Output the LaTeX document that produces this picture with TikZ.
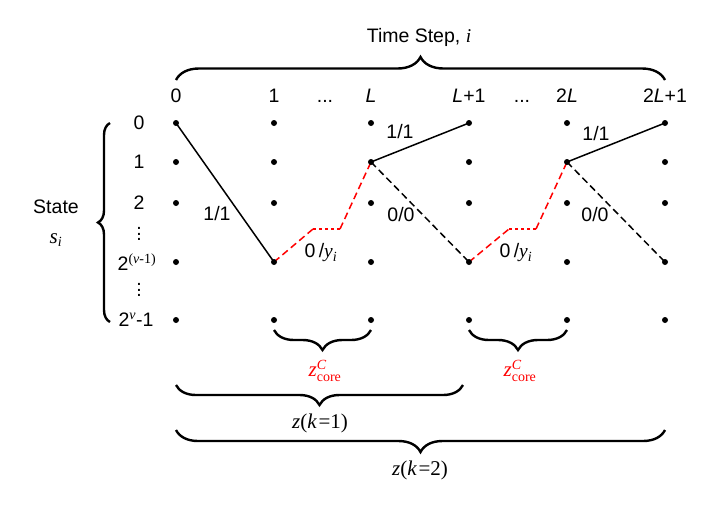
\documentclass[tikz,border=0pt]{standalone}
\usepackage{fontspec}
\setmainfont{Liberation Sans}
\newfontfamily\tms{Liberation Serif}
\usetikzlibrary{decorations.pathreplacing}
\pgfdeclarelayer{bg}
\pgfsetlayers{bg,main}
\newcommand{\sm}[1]{\hbox{\fontsize{14}{14}\selectfont\upshape #1}}
\newcommand{\vdts}{\vbox{\baselineskip=5.5pt\lineskiplimit=-20pt\hbox{.}\hbox{.}\hbox{.}}}
\begin{document}
\begin{tikzpicture}[x=1pt,y=-1pt,
  lbl/.style={font=\fontsize{19.5}{22}\selectfont, inner sep=0pt},
  blbl/.style={lbl, anchor=base},
  tlbl/.style={font=\fontsize{21}{22}\selectfont\tms, inner sep=0pt},
  dot/.style={circle,fill=black,inner sep=0pt,minimum size=6pt},
  edge/.style={line width=1.5pt},
  dedge/.style={line width=1.5pt, dash pattern=on 7pt off 4pt},
  redge/.style={line width=1.5pt, red, dash pattern=on 7pt off 4pt},
  rdots/.style={line width=1.8pt, red, dash pattern=on 3pt off 3pt},
  brc/.style={decorate, decoration={brace, amplitude=#1}, line width=2.4pt},
]
\useasboundingbox (0,0) rectangle (706,507);

% grid of states
\foreach \cx [count=\ci from 0] in {176,274,371,469,567,665} {
  \foreach \ry [count=\ri from 0] in {123,162,203,262,320} {
    \node[dot] (c\ci r\ri) at (\cx,\ry) {};
  }
}

% time step labels
\node[blbl] (t0) at (176,102) {0};
\node[blbl] (t1) at (274,102) {1};
\node[blbl] (td1) at (325,102) {...};
\node[blbl] (tL) at (371,102) {\itshape L};
\node[blbl] (tL1) at (469,102) {\itshape L\upshape+1};
\node[blbl] (td2) at (522,102) {...};
\node[blbl] (t2L) at (567,102) {2\itshape L};
\node[blbl] (t2L1) at (665,102) {2\itshape L\upshape+1};

% state labels
\node[lbl] (s0) at (139,123) {0};
\node[lbl] (s1) at (139,162) {1};
\node[lbl] (s2) at (139,203) {2};
\node[lbl] (sv1) at (139,234) {\vdts};
\node[lbl] (s3) at (137,262) {2$^{\sm{\tms(\itshape ν\upshape-1)}}$};
\node[lbl] (sv2) at (139,290) {\vdts};
\node[lbl] (s4) at (136,320) {2$^{\sm{\tms\itshape ν}}$-1};
\node[lbl] (state) at (56,207) {State};
\node[tlbl] (si) at (56,240) {\itshape s$_{\sm{\tms\itshape i}}$};

% braces
\coordinate (lbA) at (110,322); \coordinate (lbB) at (110,123);
\draw[brc=12] (lbA) -- (lbB);
\coordinate (tbA) at (176,80); \coordinate (tbB) at (665,80);
\draw[brc=23] (tbA) -- (tbB);
\node[lbl] (ts) at (419,37) {Time Step, {\tms\itshape i}};

\coordinate (cb1A) at (371,330); \coordinate (cb1B) at (274,330);
\draw[brc=20] (cb1A) -- (cb1B);
\coordinate (cb2A) at (567,330); \coordinate (cb2B) at (469,330);
\draw[brc=20] (cb2A) -- (cb2B);
\node[tlbl,red] (zc1) at (325,371) {\itshape z$^{\sm{\tms\itshape C}}_{\sm{\tms core}}$};
\node[tlbl,red] (zc2) at (520,371) {\itshape z$^{\sm{\tms\itshape C}}_{\sm{\tms core}}$};

\coordinate (k1A) at (463,385); \coordinate (k1B) at (176,385);
\draw[brc=20] (k1A) -- (k1B);
\node[tlbl] (zk1) at (320,423) {\itshape z\upshape(\itshape k\upshape\hspace{2pt}=1)};
\coordinate (k2A) at (665,430); \coordinate (k2B) at (176,430);
\draw[brc=22] (k2A) -- (k2B);
\node[tlbl] (zk2) at (420,470) {\itshape z\upshape(\itshape k\upshape\hspace{2pt}=2)};

% transitions
\coordinate (ra1) at (313,229); \coordinate (rb1) at (340,229);
\coordinate (ra2) at (509,229); \coordinate (rb2) at (536,229);
\begin{pgfonlayer}{bg}
\draw[edge] (c0r0.center) -- (c1r3.center);
\draw[redge] (c1r3.center) -- (ra1);
\draw[rdots] (ra1) -- (rb1);
\draw[redge] (rb1) -- (c2r1.center);
\draw[edge] (c2r1.center) -- (c3r0.center);
\draw[dedge] (c2r1.center) -- (c3r3.center);
\draw[redge] (c3r3.center) -- (ra2);
\draw[rdots] (ra2) -- (rb2);
\draw[redge] (rb2) -- (c4r1.center);
\draw[edge] (c4r1.center) -- (c5r0.center);
\draw[dedge] (c4r1.center) -- (c5r3.center);
\end{pgfonlayer}

% transition labels
\node[lbl] (e1) at (217,214) {1/1};
\node[lbl] (e2) at (400,132) {1/1};
\node[lbl] (e3) at (401,215) {0/0};
\node[lbl] (e4) at (596,134) {1/1};
\node[lbl] (e5) at (595,215) {0/0};
\node[lbl] (e6) at (321,253) {0\,/{\tms\itshape y$_{\sm{\tms\itshape i}}$}};
\node[lbl] (e7) at (516,253) {0\,/{\tms\itshape y$_{\sm{\tms\itshape i}}$}};
\end{tikzpicture}
\end{document}
